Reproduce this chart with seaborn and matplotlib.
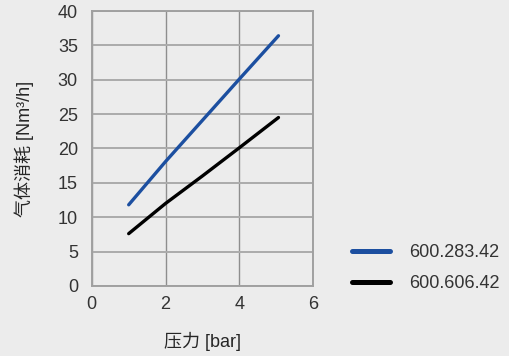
import numpy as np
import pandas as pd
import seaborn as sns
import matplotlib.pyplot as plt

# data
pressure = [1, 2, 3, 4, 5.06]
flow_283 = [11.8, 18.1, 24.1, 30.1, 36.4]
flow_606 = [7.6, 12.0, 16.0, 20.1, 24.5]
models = ["600.283.42", "600.606.42"]
colors = ["#1c4fa0", "#000000"]

df = pd.concat([
    pd.DataFrame({"p": pressure, "q": flow_283, "model": models[0]}),
    pd.DataFrame({"p": pressure, "q": flow_606, "model": models[1]}),
])

sns.set_theme(style="white")
plt.rcParams["font.family"] = ["Liberation Sans", "Noto Sans CJK SC", "DejaVu Sans"]
plt.rcParams["text.color"] = "#333333"
plt.rcParams["xtick.color"] = "#333333"
plt.rcParams["ytick.color"] = "#333333"

fig = plt.figure(figsize=(5.1, 3.56), dpi=100, facecolor="#ececec")
ax = fig.add_axes([0.180, 0.197, 0.434, 0.772])
ax.set_facecolor("#ececec")

sns.lineplot(data=df, x="p", y="q", hue="model", palette=colors,
             linewidth=2.4, ax=ax, legend=False)

ax.set_xlim(0, 6)
ax.set_ylim(0, 40)
ax.set_xticks([0, 2, 4, 6])
ax.set_yticks(range(0, 41, 5))
ax.tick_params(axis="both", labelsize=13, length=0)
ax.tick_params(axis="y", pad=10)
ax.tick_params(axis="x", pad=7)

ax.yaxis.grid(True, color="#ababab", linewidth=1.4)
ax.xaxis.grid(True, color="#8e8e8e", linewidth=1.0)
for s in ax.spines.values():
    s.set_color("#a0a0a0")
    s.set_linewidth(1.4)

ax.set_xlabel("压力 [bar]", fontsize=13, labelpad=14)
ax.set_ylabel("气体消耗 [Nm³/h]", fontsize=13, labelpad=17)

handles = [plt.Line2D([], [], color=c, linewidth=3.6) for c in colors]
fig.legend(handles, models, loc="center left", bbox_to_anchor=(0.690, 0.247),
           frameon=False, fontsize=13, handlelength=2.1, handletextpad=1.05,
           labelspacing=0.75, borderpad=0, borderaxespad=0)

fig.savefig("out.png", dpi=100, facecolor=fig.get_facecolor())
